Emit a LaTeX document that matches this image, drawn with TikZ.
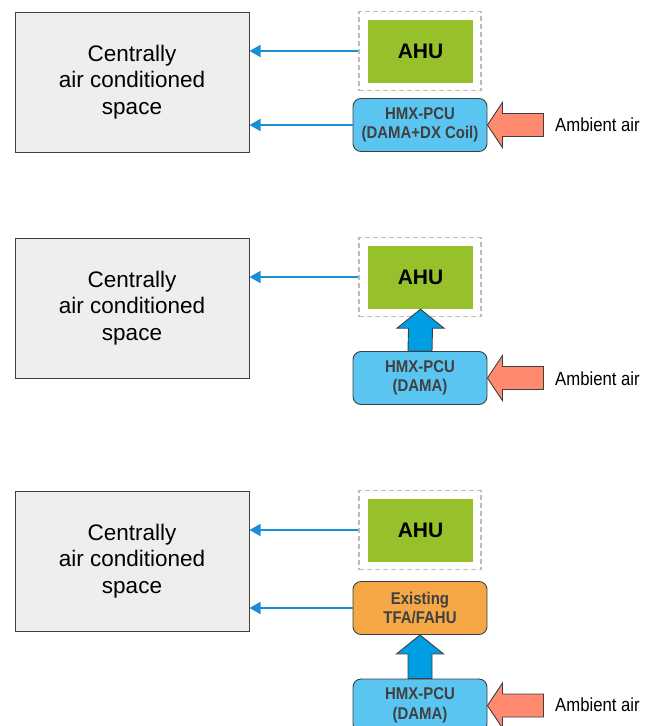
\documentclass[tikz,border=0pt]{standalone}
\usepackage{fontspec}
\setmainfont{Liberation Sans}
\newfontfamily\narrowfont[FakeStretch=0.88]{Liberation Sans}
\usetikzlibrary{arrows.meta,calc}

\definecolor{spacefill}{HTML}{EDEEED}
\definecolor{edgegrey}{HTML}{3F3F3F}
\definecolor{ahugreen}{HTML}{97C12B}
\definecolor{pcublue}{HTML}{5BC5F2}
\definecolor{tfaorange}{HTML}{F6A847}
\definecolor{ambsalmon}{HTML}{FF8A70}
\definecolor{flowblue}{HTML}{009FE3}
\definecolor{linkblue}{HTML}{1B8FD6}
\definecolor{dashgrey}{HTML}{BDBDBD}

\tikzset{
  spacebox/.style={draw=edgegrey, fill=spacefill, line width=1pt,
    minimum width=234pt, minimum height=140pt, inner sep=0pt,
    align=center, font=\fontsize{22.5}{26.5}\selectfont},
  dashframe/.style={draw=dashgrey, dashed, dash pattern=on 5pt off 3pt,
    line width=1.2pt, minimum width=122pt, minimum height=79pt, inner sep=0pt},
  ahubox/.style={fill=ahugreen, minimum width=105pt, minimum height=63pt,
    inner sep=0pt, font=\bfseries\fontsize{21}{24}\selectfont},
  unitbox/.style={draw=edgegrey, line width=0.9pt, rounded corners=8pt,
    minimum width=134pt, minimum height=53pt, inner sep=0pt, align=center,
    text=black!75, font=\narrowfont\bfseries\fontsize{17}{19.5}\selectfont},
  pcubox/.style={unitbox, fill=pcublue},
  tfabox/.style={unitbox, fill=tfaorange},
  link/.style={draw=linkblue, line width=1.6pt,
    -{Triangle[length=11pt,width=12pt]}},
  ambarrow/.style={draw=edgegrey, fill=ambsalmon, line width=0.9pt, line join=miter},
  flowarrow/.style={draw=edgegrey, fill=flowblue, line width=0.9pt, line join=miter},
  ambtext/.style={anchor=west, inner sep=0pt,
    font=\narrowfont\fontsize{19}{22}\selectfont}
}

% left-pointing block arrow whose tip sits on a unit's east side
\newcommand{\ambientin}[1]{%
  \draw[ambarrow] (#1.east) -- ++(15,22.5) -- ++(0,-11) -- ++(41,0)
    -- ++(0,-23) -- ++(-41,0) -- ++(0,-11) -- cycle;}
% upward block arrow between two stacked units
\newcommand{\flowup}[2]{%
  \draw[flowarrow] (#2.south) -- ($(#2.south)+(23.5,-19)$) -- ($(#2.south)+(12,-19)$)
    -- ($(#1.north)+(12,0)$) -- ($(#1.north)+(-12,0)$)
    -- ($(#2.south)+(-12,-19)$) -- ($(#2.south)+(-23.5,-19)$) -- cycle;}

\begin{document}
\begin{tikzpicture}[x=1pt,y=1pt]
\clip (0,0) rectangle (646,-726);

% ---- Option 1: AHU and DAMA+DX unit feed the space in parallel
\node[spacebox] (space1) at (132,-82) {Centrally\\air conditioned\\space};
\node[dashframe] (frame1) at (420,-51) {};
\node[ahubox] (ahu1) at (420.5,-51.5) {AHU};
\node[pcubox] (pcu1) at (420,-125) {HMX-PCU\\(DAMA+DX Coil)};
\draw[link] (frame1.west) -- (frame1.west -| space1.east);
\draw[link] (pcu1.west) -- (pcu1.west -| space1.east);
\ambientin{pcu1}
\node[ambtext] (amb1) at (555,-125) {Ambient air};

% ---- Option 2: DAMA unit pre-treats air for the AHU
\node[spacebox] (space2) at (132,-308) {Centrally\\air conditioned\\space};
\node[dashframe] (frame2) at (420,-277) {};
\node[ahubox] (ahu2) at (420.5,-277.5) {AHU};
\node[pcubox] (pcu2) at (420,-378) {HMX-PCU\\(DAMA)};
\draw[link] (frame2.west) -- (frame2.west -| space2.east);
\flowup{pcu2}{ahu2}
\ambientin{pcu2}
\node[ambtext] (amb2) at (555,-379) {Ambient air};

% ---- Option 3: DAMA unit pre-treats air for the existing TFA/FAHU
\node[spacebox] (space3) at (132,-561) {Centrally\\air conditioned\\space};
\node[dashframe] (frame3) at (420,-530) {};
\node[ahubox] (ahu3) at (420.5,-530.5) {AHU};
\node[tfabox] (tfa3) at (420,-608) {Existing\\TFA/FAHU};
\node[pcubox] (pcu3) at (420,-705.5) {HMX-PCU\\(DAMA)};
\draw[link] (frame3.west) -- (frame3.west -| space3.east);
\draw[link] (tfa3.west) -- (tfa3.west -| space3.east);
\flowup{pcu3}{tfa3}
\ambientin{pcu3}
\node[ambtext] (amb3) at (555,-705) {Ambient air};
\end{tikzpicture}
\end{document}
